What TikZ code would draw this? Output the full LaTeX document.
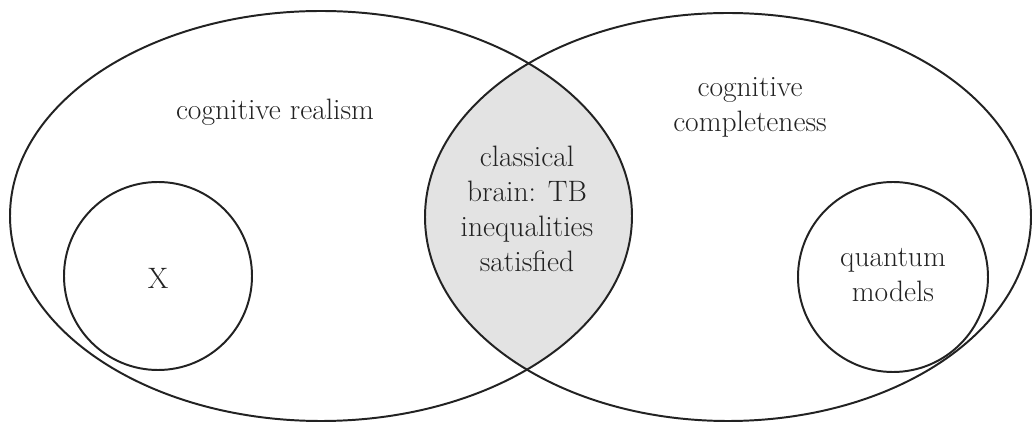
\documentclass[tikz,border=0pt]{standalone}
\usepackage{xcolor}
\definecolor{lens_grey}{HTML}{E3E3E3}
\definecolor{ink}{HTML}{222222}
\tikzset{
	setline/.style={draw=ink, line width=1.4pt},
	setlabel/.style={text=ink, align=center, font=\fontsize{21}{25}\selectfont}
}

\begin{document}
\begin{tikzpicture}
	\useasboundingbox (0, 0) rectangle (25.825, -10.575);
	\coordinate (L) at (8.025, -5.4);
	\coordinate (R) at (18.2, -5.425);
	\begin{scope}
		\clip (L) ellipse (7.775 and 5.125);
		\fill[lens_grey] (R) ellipse (7.575 and 5.1);
	\end{scope}
	\draw[setline] (L) ellipse (7.775 and 5.125);
	\draw[setline] (R) ellipse (7.575 and 5.1);
	\draw[setline] (3.95, -6.9) circle (2.35);
	\draw[setline] (22.325, -6.925) circle (2.375);
	\node[setlabel] (realism) at (6.875, -2.8) {cognitive realism};
	\node[setlabel] (completeness) at (18.75, -2.675) {cognitive\\completeness};
	\node[setlabel] (classical) at (13.175, -5.225) {classical\\brain: TB\\inequalities\\satisfied};
	\node[setlabel] (x) at (3.95, -6.95) {X};
	\node[setlabel] (quantum) at (22.325, -6.875) {quantum\\models};
\end{tikzpicture}
\end{document}
